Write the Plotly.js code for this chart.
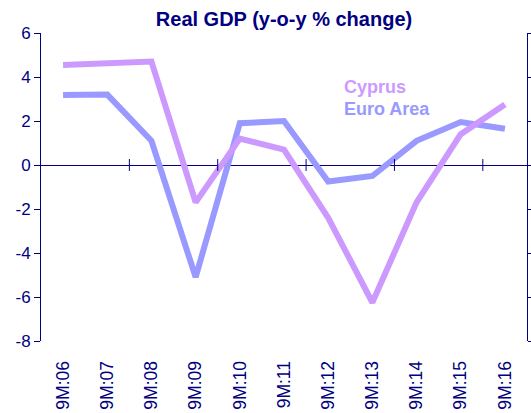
<!DOCTYPE html>
<html>
<head>
<meta charset="utf-8">
<script src="https://cdn.plot.ly/plotly-3.0.1.min.js"></script>
<style>html,body{margin:0;padding:0;background:#fff;}#chart{width:531px;height:413px;}</style>
</head>
<body>
<div id="chart"></div>
<script>
const categories = ["9M:06","9M:07","9M:08","9M:09","9M:10","9M:11","9M:12","9M:13","9M:14","9M:15","9M:16"];
const cyprus = [4.55, 4.6, 4.7, -1.7, 1.2, 0.7, -2.4, -6.25, -1.7, 1.4, 2.75];
const euroArea = [3.18, 3.2, 1.1, -5.1, 1.9, 2.0, -0.75, -0.5, 1.1, 1.95, 1.65];
const seriesNames = ["Cyprus", "Euro Area"];
const seriesColors = ["#CC99FF", "#9999FF"];
const yTicks = [-8, -6, -4, -2, 0, 2, 4, 6];
const yTickText = ["-8", "-6", "-4", "-2", "0", "2", "4", "6"];

const navy = "#000080";
const xIdx = categories.map((_, i) => i);

const traces = [
  {x: xIdx, y: euroArea, name: seriesNames[1], mode: "lines", line: {color: seriesColors[1], width: 6}},
  {x: xIdx, y: cyprus, name: seriesNames[0], mode: "lines", line: {color: seriesColors[0], width: 6}}
];

// tick marks on the zero line between every second category
const shapes = [];
for (let i = 1; i < categories.length - 1; i += 2) {
  shapes.push({type: "line", xref: "x", yref: "y", x0: i + 0.5, x1: i + 0.5, y0: -0.27, y1: 0.27,
    line: {color: navy, width: 1}});
}

const layout = {
  width: 531, height: 413,
  margin: {l: 41, r: 4, t: 33, b: 72},
  paper_bgcolor: "#fff", plot_bgcolor: "#fff",
  showlegend: false,
  font: {family: "Liberation Sans, Arial, sans-serif", color: navy},
  title: {text: "<b>Real GDP (y-o-y % change)</b>", font: {size: 20, color: navy, family: "Liberation Sans, Arial, sans-serif"},
    xref: "paper", x: 0.5, xanchor: "center", yref: "container", y: 0.955, yanchor: "middle"},
  xaxis: {range: [-0.5, categories.length - 0.5], tickvals: xIdx, ticktext: categories, tickangle: -90,
    showgrid: false, zeroline: false, showline: false, ticks: "outside", ticklen: 12, tickcolor: "rgba(0,0,0,0)",
    tickfont: {size: 17.5, color: navy}, fixedrange: true},
  yaxis: {range: [-8, 6], tickvals: yTicks, ticktext: yTickText, showgrid: false,
    zeroline: true, zerolinecolor: navy, zerolinewidth: 1,
    showline: true, linecolor: navy, linewidth: 1, mirror: "ticks",
    ticks: "outside", ticklen: 6, tickcolor: navy, tickwidth: 1,
    tickfont: {size: 17, color: navy}, fixedrange: true},
  shapes: shapes,
  annotations: [
    {xref: "paper", yref: "paper", x: 0.619, y: 0.825, xanchor: "left", yanchor: "middle", showarrow: false,
      text: "<b>" + seriesNames[0] + "</b>", font: {size: 18, color: seriesColors[0]}},
    {xref: "paper", yref: "paper", x: 0.619, y: 0.753, xanchor: "left", yanchor: "middle", showarrow: false,
      text: "<b>" + seriesNames[1] + "</b>", font: {size: 18, color: seriesColors[1]}}
  ]
};

Plotly.newPlot("chart", traces, layout, {displayModeBar: false, staticPlot: true});
</script>
</body>
</html>
